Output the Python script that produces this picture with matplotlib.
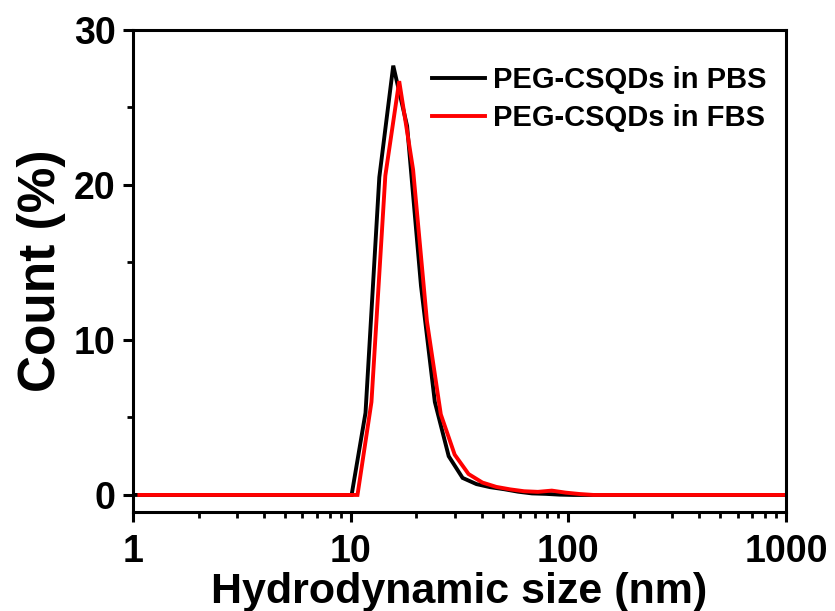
import matplotlib
matplotlib.use("Agg")
import matplotlib.pyplot as plt
from matplotlib.ticker import LogLocator, NullFormatter, MultipleLocator, FixedLocator, FixedFormatter

# Data
pbs_size = [1.0, 10.1, 11.7, 13.54, 15.69, 18.17, 21.04, 24.36, 28.21, 32.67, 37.84,
            43.82, 50.75, 58.77, 68.06, 78.82, 91.28, 105.7, 1000]
pbs_count = [0, 0, 5.3, 20.5, 27.7, 23.8, 13.5, 6.0, 2.5, 1.1, 0.7,
             0.5, 0.37, 0.21, 0.1, 0.07, 0.02, 0, 0]

fbs_size = [1.07, 10.75, 12.46, 14.43, 16.71, 19.35, 22.41, 25.95, 30.05, 34.80, 40.30,
            46.67, 54.05, 62.59, 72.48, 83.94, 97.2, 112.6, 130.4, 1000]
fbs_count = [0, 0, 6.0, 20.6, 26.7, 21.0, 11.2, 5.2, 2.6, 1.35, 0.8,
             0.52, 0.36, 0.24, 0.2, 0.28, 0.15, 0.06, 0, 0]

labels = ["PEG-CSQDs in PBS", "PEG-CSQDs in FBS"]
x_ticks = [1, 10, 100, 1000]
x_ticklabels = ["1", "10", "100", "1000"]
y_ticks = [0, 10, 20, 30]

plt.rcParams['font.family'] = ['Liberation Sans', 'DejaVu Sans']
plt.rcParams['font.weight'] = 'bold'

W, H = 835, 611
fig = plt.figure(figsize=(W / 100, H / 100), dpi=100)
L, R, T, B = 133, 786, 30, 512
ax = fig.add_axes([L / W, (H - B) / H, (R - L) / W, (B - T) / H])

ax.plot(pbs_size, pbs_count, color='black', lw=2.8, label=labels[0], solid_joinstyle='miter')
ax.plot(fbs_size, fbs_count, color='#ff0000', lw=2.8, label=labels[1], solid_joinstyle='miter')

ax.set_xscale('log')
ax.set_xlim(1, 1000)
ax.set_ylim(-1.1, 30)

ax.xaxis.set_major_locator(FixedLocator(x_ticks))
ax.xaxis.set_major_formatter(FixedFormatter(x_ticklabels))
ax.xaxis.set_minor_locator(LogLocator(base=10, subs=range(2, 10)))
ax.xaxis.set_minor_formatter(NullFormatter())
ax.yaxis.set_major_locator(FixedLocator(y_ticks))
ax.yaxis.set_minor_locator(MultipleLocator(5))

for s in ax.spines.values():
    s.set_linewidth(2.2)

ax.tick_params(which='major', direction='out', length=7.5, width=2.2, labelsize=27, pad=5)
ax.tick_params(which='minor', direction='out', length=4.5, width=2.0)
ax.tick_params(axis='x', which='major', pad=8)
ax.tick_params(top=False, right=False, which='both')
for lab in ax.get_xticklabels() + ax.get_yticklabels():
    lab.set_fontweight('bold')

ax.set_xlabel("Hydrodynamic size (nm)", fontsize=31, fontweight='bold', labelpad=2)
ax.set_ylabel("Count (%)", fontsize=37, fontweight='bold', labelpad=6)

leg = ax.legend(loc='upper left', bbox_to_anchor=(0.458, 0.925), frameon=False,
                handlelength=1.8, handletextpad=0.3, labelspacing=0.35,
                borderpad=0, borderaxespad=0, prop={'weight': 'bold', 'size': 21})

fig.savefig("out.png", dpi=100)
